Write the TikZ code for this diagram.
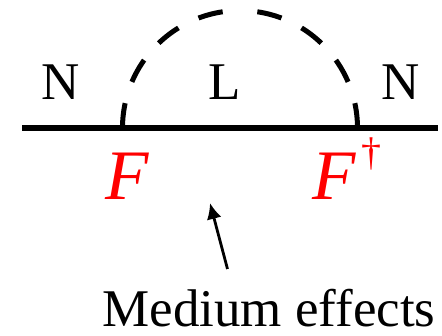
\documentclass[tikz,border=0pt]{standalone}
\usepackage{fontspec}
\setmainfont{Liberation Serif}
\usetikzlibrary{arrows.meta}

\begin{document}
\begin{tikzpicture}[x=1pt, y=1pt, every node/.style={inner sep=0pt, font=\fontsize{53}{60}\selectfont}]
        \useasboundingbox (0,0) rectangle (442,-336);
        \coordinate (lft) at (22,-128);
        \coordinate (rgt) at (438,-128);
        \coordinate (vin) at (122.5,-128);
        \coordinate (vout) at (357.5,-128);
        \draw[line width=6pt] (lft) -- (rgt);
        \draw[line width=5pt, dash pattern=on 25pt off 22.4pt] (vin) arc[start angle=180, end angle=90, radius=117.5pt];
        \draw[line width=5pt, dash pattern=on 25pt off 22.4pt] (vout) arc[start angle=0, end angle=90, radius=117.5pt];
        \node[anchor=base] (nin) at (61,-100) {N};
        \node[anchor=base] (lep) at (225,-100) {L};
        \node[anchor=base] (nout) at (401,-100) {N};
        \node[anchor=base, text=red, font=\fontsize{71}{80}\selectfont\itshape] (ff) at (127,-200) {F};
        \node[anchor=base west, text=red, font=\fontsize{71}{80}\selectfont\itshape] (fd) at (312,-200) {F\hspace{6pt}\raisebox{34pt}{\fontsize{40}{44}\selectfont\upshape †}};
        \node[anchor=base] (med) at (269,-327) {Medium effects};
        \coordinate (tail) at (227.5,-269);
        \coordinate (tip) at (210,-203);
        \draw[-{Latex[length=16pt, width=15pt]}, line width=2.8pt] (tail) -- (tip);
      \end{tikzpicture}
\end{document}
